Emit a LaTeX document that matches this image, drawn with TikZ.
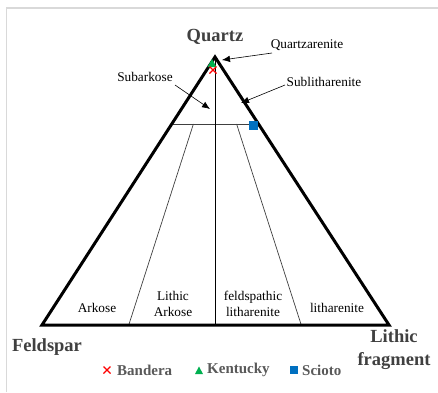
\documentclass[tikz,border=0pt]{standalone}
\usepackage{fontspec}
\setmainfont{Liberation Serif}
\usetikzlibrary{arrows.meta}
\definecolor{lblgray}{HTML}{404040}
\definecolor{leggray}{HTML}{595959}
\definecolor{framegray}{HTML}{D9D9D9}
\definecolor{mkred}{HTML}{FF0000}
\definecolor{mkgreen}{HTML}{00B050}
\definecolor{mkblue}{HTML}{0070C0}
\begin{document}
\begin{tikzpicture}[x=1pt,y=-1pt,
  pole/.style={font=\fontsize{18.5}{22}\selectfont\bfseries, text=lblgray, inner sep=0, align=center},
  cls/.style={font=\fontsize{13.3}{16.5}\selectfont, inner sep=0, align=center},
  leg/.style={font=\fontsize{15}{16}\selectfont\bfseries, text=leggray, inner sep=0, anchor=west},
  frame/.style={draw=framegray, line width=1.5pt},
  edge/.style={draw=black, line width=3pt, line join=miter},
  divline/.style={draw=black!75, line width=0.7pt},
  pointer/.style={draw=black, line width=0.6pt, -{Latex[length=8pt,width=6.5pt]}},
  redx/.style={draw=mkred, line width=1.2pt},
  greentri/.style={fill=mkgreen},
  bluesq/.style={fill=mkblue}]
\useasboundingbox (0,0) rectangle (438,392);
\fill[white] (0,0) rectangle (438,392);
% frame
\draw[frame] (6.5,392) -- (6.5,8) -- (438,8);
% corners
\coordinate (Q) at (215,57);
\coordinate (F) at (42,325);
\coordinate (L) at (389,325);
% inner division lines
\coordinate (h1) at (171.6,124);
\coordinate (h2) at (258.4,124);
\coordinate (sl1) at (193.4,124);
\coordinate (sb1) at (128.75,325);
\coordinate (sl2) at (236.6,124);
\coordinate (sb2) at (301.25,325);
\coordinate (vb) at (215,325);
\draw[divline] (h1) -- (h2);
\draw[divline] (sl1) -- (sb1);
\draw[divline] (sl2) -- (sb2);
\draw[draw=black, line width=0.7pt] (Q) -- (vb);
% main triangle
\draw[edge] (F) -- (Q) -- (L) -- cycle;
% pole labels
\node[pole] (nq) at (215,37) {Quartz};
\node[pole] (nf) at (47,347) {Feldspar};
\node[pole, font=\fontsize{18.5}{23}\selectfont\bfseries] (nl) at (394,350) {Lithic\\fragment};
% class labels
\node[cls] (qa) at (307,45) {Quartzarenite};
\node[cls] (sa) at (145,77) {Subarkose};
\node[cls] (sl) at (324,82) {Sublitharenite};
\node[cls] (ak) at (97,308) {Arkose};
\node[cls] (lak) at (173,304) {Lithic\\Arkose};
\node[cls] (fl) at (253,304) {feldspathic\\litharenite};
\node[cls] (lt) at (337,308) {litharenite};
% pointers
\coordinate (qaS) at (272,53);
\coordinate (qaT) at (222,60);
\coordinate (saS) at (175,85);
\coordinate (saT) at (210,109);
\coordinate (slS) at (285,85);
\coordinate (slT) at (241,103);
\draw[pointer] (qaS) -- (qaT);
\draw[pointer] (saS) -- (saT);
\draw[pointer] (slS) -- (slT);
% data markers
\fill[greentri] (207.5,67) -- (212,59) -- (216.5,67) -- cycle;
\draw[redx] (209.5,66.5) -- (216.5,73.5) (209.5,73.5) -- (216.5,66.5);
\fill[bluesq] (248.5,120.5) rectangle (257.5,129.5);
% legend
\draw[redx] (103.5,366.5) -- (110.5,373.5) (103.5,373.5) -- (110.5,366.5);
\node[leg] (lb) at (117,370) {Bandera};
\fill[greentri] (195,374) -- (199,366.5) -- (203,374) -- cycle;
\node[leg] (lk) at (207,370) {Kentucky};
\fill[bluesq] (290,366) rectangle (298,374);
\node[leg] (ls) at (302,370) {Scioto};
\end{tikzpicture}
\end{document}
